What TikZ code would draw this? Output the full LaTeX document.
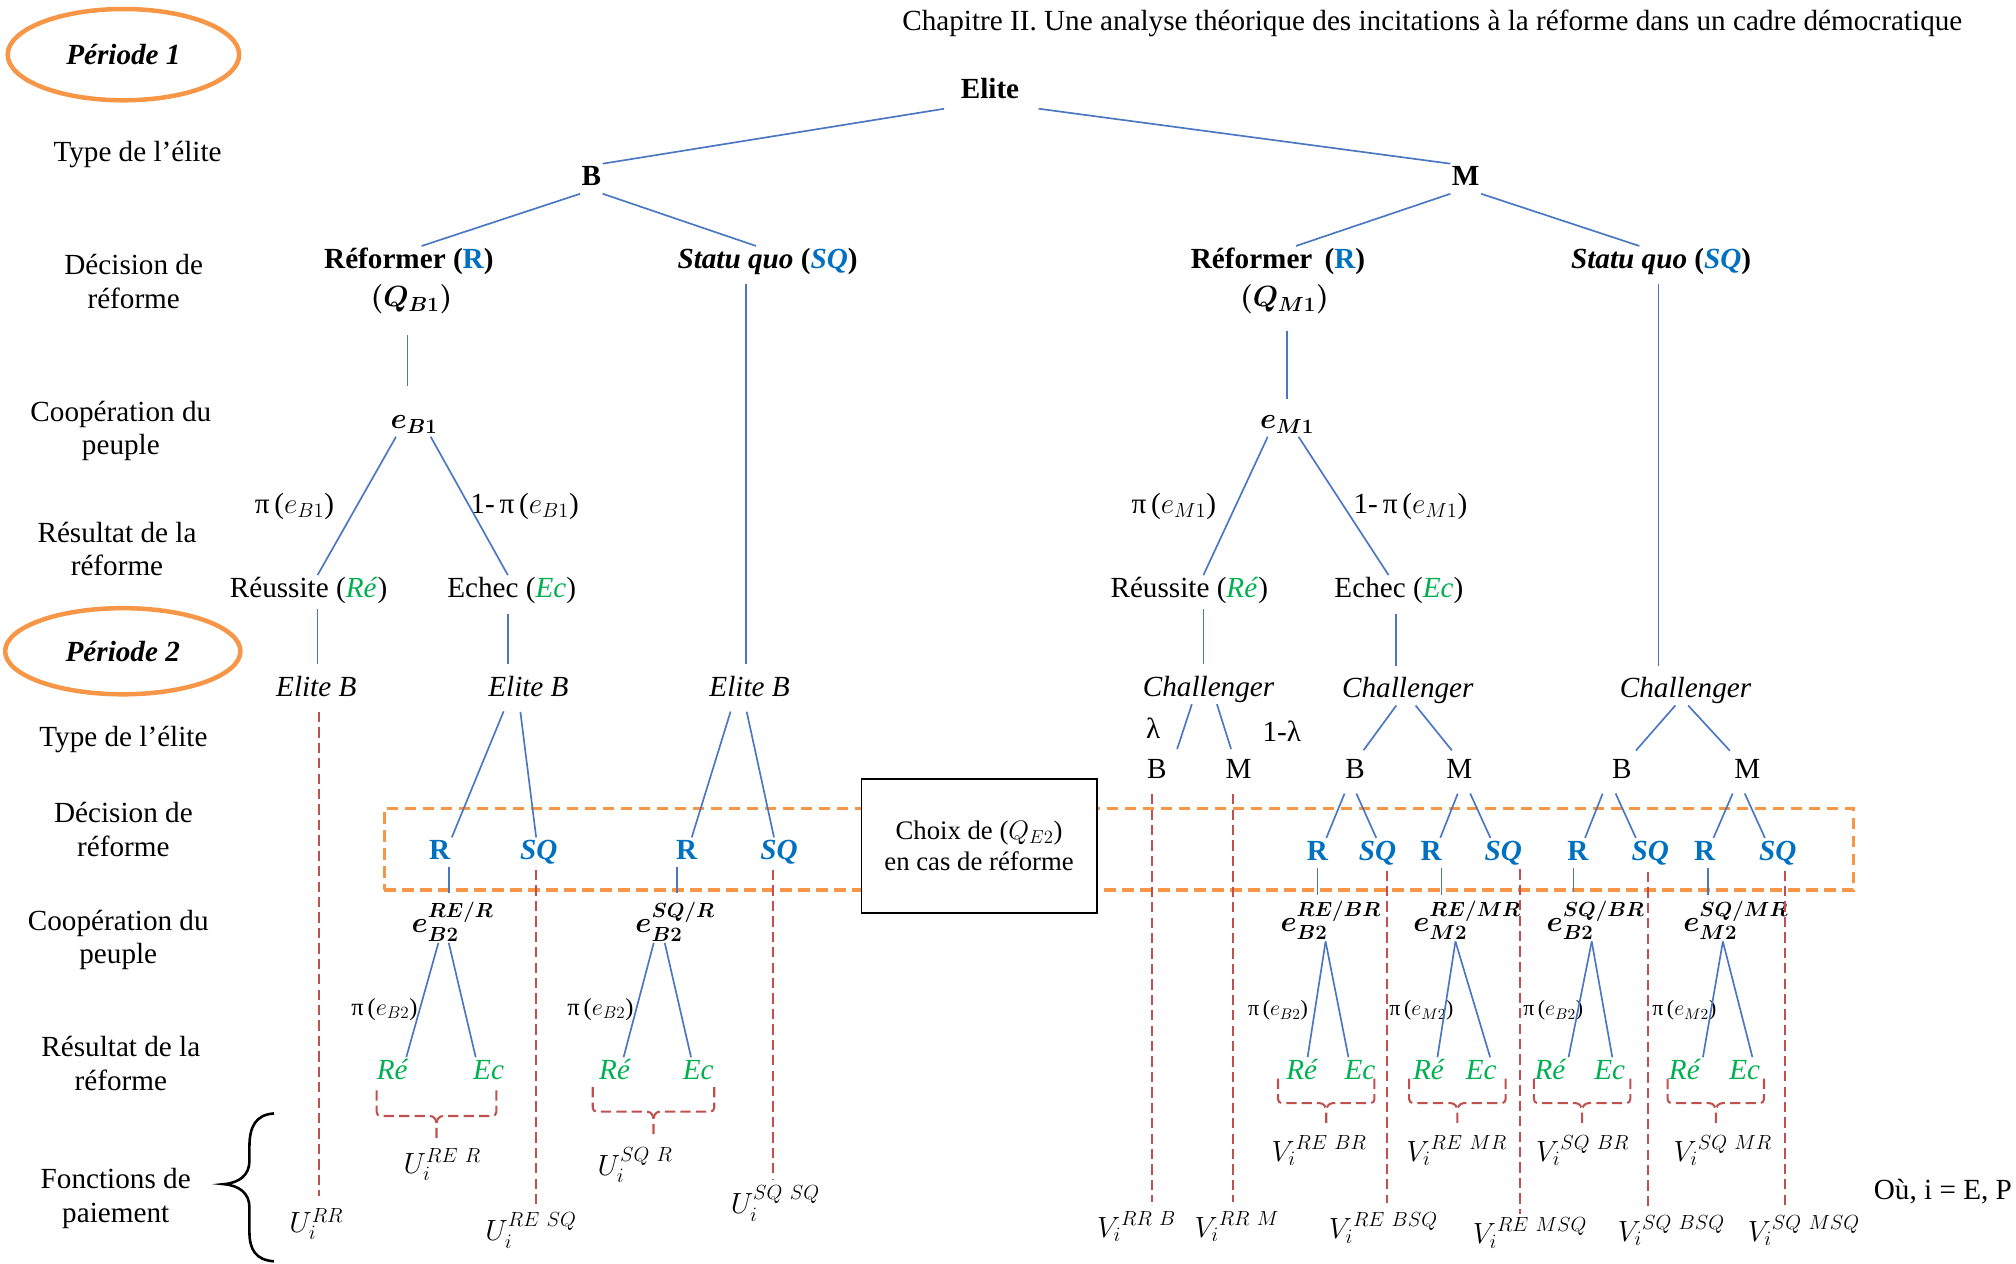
\RequirePackage{fix-cm}
\documentclass[tikz,border=0pt]{standalone}
\usepackage{amsmath}
\usepackage{bm}
\usepackage{fontspec}
\setmainfont{Liberation Serif}
\usetikzlibrary{shapes.geometric}

\definecolor{lineblue}{HTML}{4A76C2}
\definecolor{textblue}{HTML}{0070C0}
\definecolor{textgreen}{HTML}{00B050}
\definecolor{payred}{HTML}{C0504D}
\definecolor{bandorange}{HTML}{F79646}

\newcommand\bigtxt{\fontsize{22.7}{26}\selectfont}
\newcommand\midtxt{\fontsize{19}{22}\selectfont}
\newcommand\smalltxt{\fontsize{17}{20}\selectfont}
\newcommand\boxtxt{\fontsize{20.8}{24.5}\selectfont}

% dashed bracket gathering the two outcomes into one payoff
% #1 left x, #2 right x, #3 top y, #4 bar y, #5 tip y
\newcommand\paybrace[5]{%
  \pgfmathsetmacro\pbmid{(#1+#2)/2}%
  \draw[pay] (#1,#3) -- (#1,#4-3) to[out=-90,in=180] (#1+3,#4) -- (\pbmid-5,#4)
     to[out=0,in=90] (\pbmid,#4+6) -- (\pbmid,#5);
  \draw[pay] (#2,#3) -- (#2,#4-3) to[out=-90,in=0] (#2-3,#4) -- (\pbmid+5,#4)
     to[out=180,in=90] (\pbmid,#4+6);
}

\begin{document}
\begin{tikzpicture}[x=1pt,y=-1pt,
  every node/.style={font=\bigtxt, inner sep=1pt},
  word/.style={text height=16pt, text depth=5pt},
  rowlbl/.style={align=center},
  branch/.style={draw=lineblue, line width=1.3pt},
  pay/.style={draw=payred, line width=1.6pt, dash pattern=on 8pt off 4pt},
  period/.style={ellipse, draw=bandorange, line width=3.5pt,
                 minimum width=180pt, minimum height=71pt, inner sep=0pt,
                 font=\bigtxt\bfseries\itshape},
  choiceband/.style={rectangle, draw=bandorange, line width=2.6pt,
                 dash pattern=on 9pt off 5pt, inner sep=0pt},
  rdec/.style={word, text=textblue, font=\bigtxt\bfseries},
  sqdec/.style={word, text=textblue, font=\bigtxt\bfseries\itshape},
  outc/.style={word, text=textgreen, font=\bigtxt\itshape}
]
\useasboundingbox (0,0) rectangle (1568,983);

% ---------- heading and period marks ----------
\node (chap) at (1114,18) {Chapitre II. Une analyse théorique des incitations à la réforme dans un cadre démocratique};
\node[period] (p1) at (96,42.5) {Période 1};
\node[period, minimum width=183pt, minimum height=67pt] (p2) at (95.5,506.5) {Période 2};

% ---------- row labels ----------
\node[rowlbl] (l1) at (107,120) {Type de l’élite};
\node[rowlbl] (l2) at (104,219) {Décision de\\réforme};
\node[rowlbl] (l3) at (94,335) {Coopération du\\peuple};
\node[rowlbl] (l4) at (91,427) {Résultat de la\\réforme};
\node[rowlbl] (l5) at (96,575) {Type de l’élite};
\node[rowlbl] (l6) at (96,645) {Décision de\\réforme};
\node[rowlbl] (l7) at (92,731) {Coopération du\\peuple};
\node[rowlbl] (l8) at (94,827) {Résultat de la\\réforme};
\node[rowlbl] (l9) at (90,932) {Fonctions de\\paiement};
\draw[line width=2pt] (213,866) .. controls (199,867) and (194,876) .. (194,892)
  -- (194,903) .. controls (194,914) and (186,920) .. (174,921)
  .. controls (186,922) and (194,928) .. (194,939)
  -- (194,958) .. controls (194,972) and (199,980) .. (213,981);

% ---------- period 1 ----------
\node[word, font=\bigtxt\bfseries] (elite) at (770,71) {Elite};
\node[word, font=\bigtxt\bfseries] (B) at (460,139) {B};
\node[word, font=\bigtxt\bfseries] (M) at (1140,139) {M};
\node[word] (refB) at (318,203) {\textbf{Réformer (\textcolor{textblue}{R})}};
\node[word] (qB) at (320,233) {$\bm{(Q_{B1})}$};
\node[word] (sqB) at (597,203) {\textbf{\textit{Statu quo} (\textcolor{textblue}{\textit{SQ}})}};
\node[word] (refM) at (994,203) {\textbf{Réformer\ \,(\textcolor{textblue}{R})}};
\node[word] (qM) at (999,233) {$\bm{(Q_{M1})}$};
\node[word] (sqM) at (1292,203) {\textbf{\textit{Statu quo} (\textcolor{textblue}{\textit{SQ}})}};
\node[word] (eB1) at (322,328) {$\bm{e_{B1}}$};
\node[word] (eM1) at (1001,328) {$\bm{e_{M1}}$};
\node (piB) at (229,394) {π\,($e_{B1}$)};
\node (piBc) at (408,394) {1-\,π\,($e_{B1}$)};
\node (piM) at (913,394) {π\,($e_{M1}$)};
\node (piMc) at (1097,394) {1-\,π\,($e_{M1}$)};
\node[word] (reuB) at (240,459) {Réussite (\textcolor{textgreen}{\textit{Ré}})};
\node[word] (ecB) at (398,459) {Echec (\textcolor{textgreen}{\textit{Ec}})};
\node[word] (reuM) at (925,459) {Réussite (\textcolor{textgreen}{\textit{Ré}})};
\node[word] (ecM) at (1088,459) {Echec (\textcolor{textgreen}{\textit{Ec}})};
\node[word] (ebB1) at (246,536) {\textit{Elite B}};
\node[word] (ebB2) at (411,536) {\textit{Elite B}};
\node[word] (ebB3) at (583,536) {\textit{Elite B}};
\node[word] (ch1) at (940,536) {\textit{Challenger}};
\node[word] (ch2) at (1095,537) {\textit{Challenger}};
\node[word] (ch3) at (1311,537) {\textit{Challenger}};

\draw[branch, shorten <=12pt] (elite.south west) -- (B.north east);
\draw[branch, shorten <=14pt] (elite.south east) -- (M.north west);
\draw[branch] (B.south west) -- ([xshift=10pt]refB.north);
\draw[branch] (B.south east) -- ([xshift=-9pt]sqB.north);
\draw[branch] (M.south west) -- ([xshift=14pt]refM.north);
\draw[branch] (M.south east) -- ([xshift=-17pt]sqM.north);
\draw[branch, shorten <=16pt, shorten >=16pt] ([xshift=-3pt]qB.south) -- ([xshift=-3pt]qB.south |- eB1.north);
\draw[branch, shorten <=13pt, shorten >=6pt] ([xshift=2pt]qM.south) -- ([xshift=2pt]qM.south |- eM1.north);
\draw[branch] ([xshift=-14pt]eB1.south) -- ([xshift=7pt]reuB.north);
\draw[branch] ([xshift=13pt]eB1.south) -- ([xshift=-3pt]ecB.north);
\draw[branch] ([xshift=-15pt]eM1.south) -- ([xshift=11pt]reuM.north);
\draw[branch] ([xshift=9pt]eM1.south) -- ([xshift=-8pt]ecM.north);
\draw[branch, shorten <=3pt, shorten >=8pt] ([xshift=7pt]reuB.south) -- ([xshift=7pt]reuB.south |- ebB1.north);
\draw[branch, shorten <=7pt, shorten >=8pt] ([xshift=-3pt]ecB.south) -- ([xshift=-3pt]ecB.south |- ebB2.north);
\draw[branch, shorten <=6pt, shorten >=8pt] ([xshift=-3pt]ebB3.north |- sqB.south) -- ([xshift=-3pt]ebB3.north);
\draw[branch, shorten <=3pt, shorten >=8pt] ([xshift=11pt]reuM.south) -- ([xshift=11pt]reuM.south |- ch1.north);
\draw[branch, shorten <=7pt, shorten >=7pt] ([xshift=-2pt]ecM.south) -- ([xshift=-2pt]ecM.south |- ch2.north);
\draw[branch, shorten <=6pt, shorten >=7pt] ([xshift=-2pt]sqM.south) -- ([xshift=-2pt]sqM.south |- ch3.north);

% ---------- period 2: decision band ----------
\node[choiceband, minimum width=1142.7pt, minimum height=63.5pt] (band) at (870.35,660.55) {};

% ---------- period 2: left part (elite B stays) ----------
\node[rdec] (rA) at (342,663) {R};
\node[sqdec] (sqA) at (419,663) {SQ};
\node[rdec] (rB) at (534,663) {R};
\node[sqdec] (sqB2) at (606,663) {SQ};
\node (eA) at (352,717) {$\bm{e^{RE/R}_{B2}}$};
\node (eB) at (525,717) {$\bm{e^{SQ/R}_{B2}}$};
\node[font=\midtxt] (piA) at (299,785) {π\,($e_{B2}$)};
\node[font=\midtxt] (piB2) at (467,785) {π\,($e_{B2}$)};
\node[outc] (reA) at (305,834) {Ré};
\node[outc] (ecA) at (380,834) {Ec};
\node[outc] (reB) at (478,834) {Ré};
\node[outc] (ecB2) at (543,834) {Ec};
\node (uRR) at (246,952) {$U_i^{RR}$};
\node (uRER) at (344,906) {$U_i^{RE\ R}$};
\node (uRESQ) at (413,957) {$U_i^{RE\ SQ}$};
\node (uSQR) at (494,906) {$U_i^{SQ\ R}$};
\node (uSQSQ) at (603,936) {$U_i^{SQ\ SQ}$};

\draw[branch, shorten <=6pt] ([xshift=-17pt]ebB2.south) -- (rA.north east);
\draw[branch, shorten <=6pt] ([xshift=-7pt]ebB2.south) -- ([xshift=-2pt]sqA.north);
\draw[branch, shorten <=6pt] ([xshift=-13pt]ebB3.south) -- ([xshift=4pt]rB.north);
\draw[branch, shorten <=6pt] ([xshift=-3.5pt]ebB3.south) -- ([xshift=-4pt]sqB2.north);
\draw[branch, shorten >=6pt] ([xshift=7pt]rA.south) -- ([xshift=7pt]rA.south |- eA.north);
\draw[branch, shorten >=6pt] ([xshift=-7.5pt]rB.south) -- ([xshift=-7.5pt]rB.south |- eB.north);
\draw[branch] ([xshift=-11pt]eA.south) -- ([xshift=11pt]reA.north);
\draw[branch] ([xshift=-3pt]eA.south) -- ([xshift=-10pt]ecA.north);
\draw[branch] ([xshift=-16.5pt]eB.south) -- ([xshift=7pt]reB.north);
\draw[branch] ([xshift=-8pt]eB.south) -- ([xshift=-5.5pt]ecB2.north);

\draw[pay, shorten <=6pt, shorten >=8pt] ([xshift=2pt]ebB1.south) -- ([xshift=2pt]ebB1.south |- uRR.north);
\draw[pay, shorten <=2pt, shorten >=4pt] ([xshift=-2pt]sqA.south) -- ([xshift=-2pt]sqA.south |- uRESQ.north);
\draw[pay, shorten <=2pt, shorten >=4pt] ([xshift=-5pt]sqB2.south) -- ([xshift=-5pt]sqB2.south |- uSQSQ.north);
\paybrace{293}{386}{848}{868}{887}
\paybrace{461}{555.5}{845.5}{864.6}{883.4}

% ---------- period 2: right part (challenger) ----------
\node[word] (bc1) at (899.7,600) {B};
\node[word] (mc1) at (963.3,600) {M};
\node[word] (bc2) at (1054,600) {B};
\node[word] (mc2) at (1135,600) {M};
\node[word] (bc3) at (1261.4,600) {B};
\node[word] (mc3) at (1359,600) {M};
\node (lam) at (897,566) {λ};
\node (lamc) at (997,569) {1-λ};

\node[rdec] (rC) at (1024.6,663.4) {R};
\node[sqdec] (sqC) at (1071.4,663.4) {SQ};
\node[rdec] (rD) at (1113.2,663.4) {R};
\node[sqdec] (sqD) at (1169.2,663.4) {SQ};
\node[rdec] (rE) at (1227.3,663.4) {R};
\node[sqdec] (sqE) at (1283.6,663.4) {SQ};
\node[rdec] (rF) at (1325.9,663.4) {R};
\node[sqdec] (sqF) at (1382.7,663.4) {SQ};

\node (eC) at (1035,716) {$\bm{e^{RE/BR}_{B2}}$};
\node (eD) at (1141,716) {$\bm{e^{RE/MR}_{M2}}$};
\node (eE) at (1241,716) {$\bm{e^{SQ/BR}_{B2}}$};
\node (eF) at (1350,716) {$\bm{e^{SQ/MR}_{M2}}$};

\node[font=\smalltxt] (piC) at (994,786) {π\,($e_{B2}$)};
\node[font=\smalltxt] (piD) at (1105.5,786) {π\,($e_{M2}$)};
\node[font=\smalltxt] (piE) at (1208,786) {π\,($e_{B2}$)};
\node[font=\smalltxt] (piF) at (1310,786) {π\,($e_{M2}$)};

\node[outc] (reC) at (1012.4,834) {Ré};
\node[outc] (ecC) at (1057.8,834) {Ec};
\node[outc] (reD) at (1111,834) {Ré};
\node[outc] (ecD) at (1152,834) {Ec};
\node[outc] (reE) at (1205.5,834) {Ré};
\node[outc] (ecE) at (1252,834) {Ec};
\node[outc] (reF) at (1310,834) {Ré};
\node[outc] (ecF) at (1357,834) {Ec};

\node (vREBR) at (1026,895) {${V_i}^{RE\ BR}$};
\node (vREMR) at (1133,895) {${V_i}^{RE\ MR}$};
\node (vSQBR) at (1231,895) {${V_i}^{SQ\ BR}$};
\node (vSQMR) at (1340,895) {${V_i}^{SQ\ MR}$};
\node (vRRB) at (884,954) {${V_i}^{RR\ B}$};
\node (vRRM) at (962,954) {${V_i}^{RR\ M}$};
\node (vREBSQ) at (1076,955) {${V_i}^{RE\ BSQ}$};
\node (vREMSQ) at (1190,959) {${V_i}^{RE\ MSQ}$};
\node (vSQBSQ) at (1300,957) {${V_i}^{SQ\ BSQ}$};
\node (vSQMSQ) at (1403,957) {${V_i}^{SQ\ MSQ}$};
\node[anchor=east] (where) at (1566,927) {Où, i = E, P};

\draw[branch, shorten >=6pt] ([xshift=-13pt]ch1.south) -- ([xshift=14pt]bc1.north);
\draw[branch, shorten >=6pt] ([xshift=6.5pt]ch1.south) -- ([xshift=-4pt]mc1.north);
\draw[branch, shorten >=6pt] ([xshift=-9pt]ch2.south) -- ([xshift=3pt]bc2.north);
\draw[branch, shorten >=6pt] ([xshift=6pt]ch2.south) -- ([xshift=-2pt]mc2.north);
\draw[branch, shorten >=6pt] ([xshift=-8pt]ch3.south) -- ([xshift=7pt]bc3.north);
\draw[branch, shorten >=6pt] ([xshift=2pt]ch3.south) -- ([xshift=-9.5pt]mc3.north);

\draw[branch, shorten <=6pt] ([xshift=-6pt]bc2.south) -- ([xshift=7pt]rC.north);
\draw[branch, shorten <=6pt] ([xshift=-1.5pt]bc2.south) -- ([xshift=-1pt]sqC.north);
\draw[branch, shorten <=6pt] ([xshift=1pt]mc2.south) -- ([xshift=7pt]rD.north);
\draw[branch, shorten <=6pt] ([xshift=6pt]mc2.south) -- ([xshift=-10pt]sqD.north);
\draw[branch, shorten <=6pt] ([xshift=-12.7pt]bc3.south) -- ([xshift=5.5pt]rE.north);
\draw[branch, shorten <=6pt] ([xshift=-7.3pt]bc3.south) -- ([xshift=-11.3pt]sqE.north);
\draw[branch, shorten <=6pt] ([xshift=-9pt]mc3.south) -- ([xshift=6.8pt]rF.north);
\draw[branch, shorten <=6pt] ([xshift=-4.5pt]mc3.south) -- ([xshift=-10pt]sqF.north);

\draw[branch, shorten >=4pt] (rC.south) -- (rC.south |- eC.north);
\draw[branch, shorten >=4pt] ([xshift=8pt]rD.south) -- ([xshift=8pt]rD.south |- eD.north);
\draw[branch, shorten >=6pt] ([xshift=-3.6pt]rE.south) -- ([xshift=-3.6pt]rE.south |- eE.north);
\draw[branch, shorten >=4pt] ([xshift=2.3pt]rF.south) -- ([xshift=2.3pt]rF.south |- eF.north);

\draw[branch] ([xshift=-4pt]eC.south) -- ([xshift=4.6pt]reC.north);
\draw[branch] ([xshift=-4pt]eC.south) -- ([xshift=-9pt]ecC.north);
\draw[branch] ([xshift=-9pt]eD.south) -- ([xshift=7pt]reD.north);
\draw[branch] ([xshift=-9pt]eD.south) -- ([xshift=7pt]ecD.north);
\draw[branch] ([xshift=-3pt]eE.south) -- ([xshift=14.5pt]reE.north);
\draw[branch] ([xshift=-3pt]eE.south) -- ([xshift=2pt]ecE.north);
\draw[branch] ([xshift=-10pt]eF.south) -- ([xshift=14.5pt]reF.north);
\draw[branch] ([xshift=-10pt]eF.south) -- ([xshift=6pt]ecF.north);

\draw[pay, shorten <=6pt, shorten >=6pt] ([xshift=-4pt]bc1.south) -- ([xshift=-4pt]bc1.south |- vRRB.north);
\draw[pay, shorten <=6pt, shorten >=6pt] ([xshift=-4.5pt]mc1.south) -- ([xshift=-4.5pt]mc1.south |- vRRM.north);
\draw[pay, shorten <=2pt, shorten >=6pt] ([xshift=7pt]sqC.south) -- ([xshift=7pt]sqC.south |- vREBSQ.north);
\draw[pay, shorten <=1pt, shorten >=2pt] ([xshift=12.7pt]sqD.south) -- ([xshift=12.7pt]sqD.south |- vREMSQ.north);
\draw[pay, shorten <=3pt, shorten >=6pt] ([xshift=-1.8pt]sqE.south) -- ([xshift=-1.8pt]sqE.south |- vSQBSQ.north);
\draw[pay, shorten <=2pt, shorten >=6pt] ([xshift=5.5pt]sqF.south) -- ([xshift=5.5pt]sqF.south |- vSQMSQ.north);

\paybrace{994}{1069}{839}{858}{877}
\paybrace{1096}{1171}{839}{858}{877}
\paybrace{1193}{1268}{839}{858}{877}
\paybrace{1297}{1372}{839}{858}{877}

% ---------- choice of the reform level ----------
\node[draw, fill=white, line width=1.2pt, minimum width=183pt, minimum height=104pt,
      align=center, font=\boxtxt] (choix) at (761.5,658) {Choix de ($Q_{E2}$)\\en cas de réforme};
\end{tikzpicture}
\end{document}
